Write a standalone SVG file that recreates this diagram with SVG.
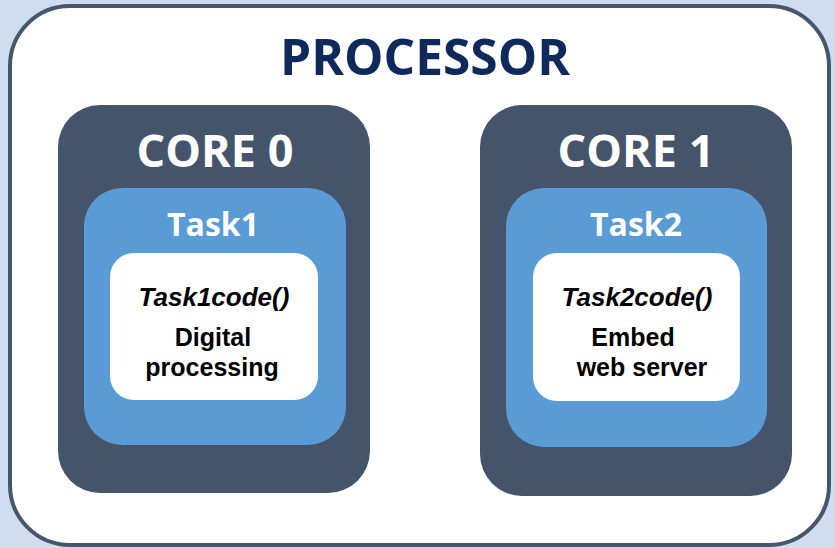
<svg xmlns="http://www.w3.org/2000/svg" width="835" height="548" viewBox="0 0 835 548">
<style>
.core{fill:#44546a}
.task{fill:#5b9bd5}
.code{fill:#ffffff}
.h{font-family:"Open Sans","Noto Sans",sans-serif;font-weight:bold;text-anchor:middle}
.b{font-family:"Liberation Sans",Arial,sans-serif;font-weight:bold;text-anchor:middle;fill:#000}
</style>
<rect x="0" y="0" width="835" height="548" fill="#d0ddf1"/>
<g id="processor">
<rect x="10" y="6" width="819" height="539" rx="60" ry="60" fill="#ffffff" stroke="#46566b" stroke-width="4"/>
<text class="h" x="425" y="75" font-size="50" fill="#10295c" textLength="290" lengthAdjust="spacingAndGlyphs">PROCESSOR</text>
</g>
<g id="core0">
<rect class="core" x="58" y="105" width="312" height="388" rx="42"/>
<text class="h" x="215" y="167" font-size="45" fill="#ffffff">CORE 0</text>
</g>
<g id="task1">
<rect class="task" x="84" y="188" width="262" height="257" rx="38"/>
<text class="h" x="213" y="236" font-size="32" fill="#ffffff">Task1</text>
</g>
<g id="task1code">
<rect class="code" x="110" y="253" width="208" height="147" rx="24"/>
<text class="b" x="214" y="306" font-size="26" font-style="italic">Task1code()</text>
<text class="b" x="213" y="346" font-size="25">Digital</text>
<text class="b" x="212" y="376" font-size="25">processing</text>
</g>
<g id="core1">
<rect class="core" x="480" y="105" width="312" height="391" rx="42"/>
<text class="h" x="636" y="167" font-size="45" fill="#ffffff">CORE 1</text>
</g>
<g id="task2">
<rect class="task" x="506" y="188" width="261" height="259" rx="38"/>
<text class="h" x="636" y="236" font-size="32" fill="#ffffff">Task2</text>
</g>
<g id="task2code">
<rect class="code" x="533" y="253" width="207" height="148" rx="24"/>
<text class="b" x="637" y="306" font-size="26" font-style="italic">Task2code()</text>
<text class="b" x="633" y="346" font-size="25">Embed</text>
<text class="b" x="642" y="376" font-size="25">web server</text>
</g>
<g id="connectors"></g>
</svg>
